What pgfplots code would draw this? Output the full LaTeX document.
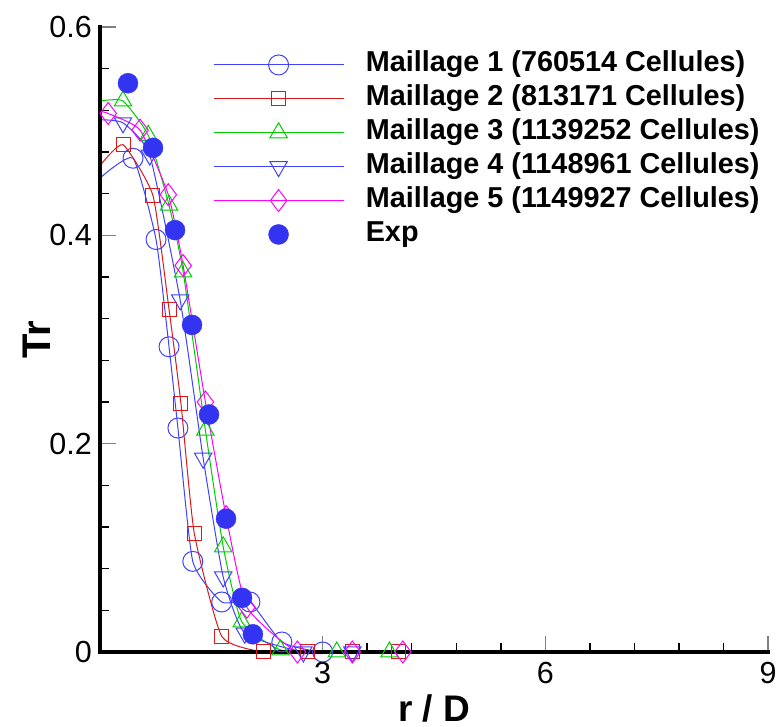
\documentclass[border=0pt]{standalone}
\usepackage{fontspec}
\setmainfont{Liberation Sans}
\usepackage{pgfplots}
\pgfplotsset{compat=1.18}
\definecolor{cblue}{rgb}{0.25,0.25,1}
\definecolor{cexp}{rgb}{0.2,0.2,0.95}
\definecolor{cred}{rgb}{0.85,0.1,0.1}
\definecolor{cgreen}{rgb}{0.0,0.8,0.0}
\definecolor{cmag}{rgb}{1,0,1}
\pgfplotsset{
  serleg/.style={legend image code/.code={
    \draw[##1, mark=none, line width=1pt] (0pt,0pt) -- (130pt,0pt);
    \draw[##1] plot coordinates {(65pt,0pt)};
    \path (152pt,0pt);
  }},
  expleg/.style={legend image code/.code={
    \draw[##1] plot coordinates {(65pt,0pt)};
    \path (0pt,0pt) (152pt,0pt);
  }},
}
\begin{document}
\begin{tikzpicture}
\begin{axis}[
  at={(0,0)}, anchor=south west,
  scale only axis, width=668pt, height=625pt,
  xmin=0, xmax=9, ymin=0, ymax=0.6,
  clip=false,
  axis x line*=bottom, axis y line*=left,
  x axis line style={-, line width=3.5pt, black},
  y axis line style={-, line width=3.5pt, black},
  xtick={3,6,9}, ytick={0,0.2,0.4,0.6},
  minor x tick num=4, minor y tick num=4,
  tick align=inside,
  major tick length=16pt, minor tick length=9pt,
  major tick style={gray, line width=1.2pt},
  minor tick style={black, line width=1.5pt},
  /pgf/number format/assume math mode=true,
  ticklabel style={font=\fontsize{30.5}{30.5}\selectfont},
  yticklabel style={inner sep=0pt, anchor=east, xshift=-8pt},
  xticklabel style={inner sep=0pt, anchor=north, yshift=-10pt},
  yticklabel={\pgfmathprintnumber[fixed,precision=1]{\tick}},
  xlabel={\textbf{r / D}},
  ylabel={\textbf{Tr}},
  xlabel style={font=\fontsize{37}{37}\selectfont, at={(axis description cs:0.5,-0.112)}, anchor=base},
  ylabel style={font=\fontsize{40}{40}\selectfont, at={(axis description cs:-0.094,0.5)}, anchor=center},
  legend cell align=left,
  legend style={at={(axis description cs:0.1645,0.9636)}, anchor=north west, draw=none, fill=none,
    font=\fontsize{28.8}{32}\selectfont\bfseries,
    row sep=7.9pt,
    nodes={inner sep=0pt, text height=20pt, text depth=6pt}},
]
% lines
\addplot[cblue, line width=1pt, smooth, tension=0.3, forget plot] coordinates {
(0,0.455) (0.445,0.474) (0.755,0.396) (0.93,0.293) (1.05,0.215) (1.25,0.087) (1.64,0.048) (2.02,0.048) (2.45,0.0096) (3.0,0) (4.2,0)};
\addplot[cred, line width=1pt, smooth, tension=0.3, forget plot] coordinates {
(0,0.467) (0.31,0.487) (0.714,0.438) (0.93,0.329) (1.09,0.239) (1.27,0.114) (1.64,0.015) (2.2,0) (2.8,0) (3.4,0) (4.02,0)};
\addplot[cgreen, line width=1pt, smooth, tension=0.3, forget plot] coordinates {
(0,0.529) (0.31,0.529) (0.65,0.496) (0.93,0.429) (1.12,0.365) (1.42,0.213) (1.66,0.101) (1.91,0.029) (2.43,0.002) (3.19,0) (3.9,0)};
\addplot[cblue, line width=1pt, smooth, tension=0.3, forget plot] coordinates {
(0,0.511) (0.31,0.508) (0.67,0.477) (1.08,0.338) (1.39,0.186) (1.66,0.072) (1.95,0.018) (2.74,0) (3.4,0)};
\addplot[cmag, line width=1pt, smooth, tension=0.3, forget plot] coordinates {
(0,0.519) (0.11,0.517) (0.54,0.501) (0.92,0.439) (1.12,0.371) (1.42,0.24) (1.7,0.13) (1.98,0.043) (2.66,0) (3.4,0) (4.08,0)};
% markers
\addplot[cblue, only marks, mark=o, mark size=10pt, mark options={line width=1pt}, serleg] coordinates {
(0.445,0.474) (0.755,0.396) (0.93,0.293) (1.05,0.215) (1.25,0.087) (1.64,0.048) (2.02,0.048) (2.45,0.0096) (3.0,0)};
\addlegendentry{Maillage 1 (760514 Cellules)}
\addplot[cred, only marks, mark=square, mark size=7pt, mark options={line width=1pt}, serleg] coordinates {
(0.31,0.487) (0.714,0.438) (0.93,0.329) (1.09,0.239) (1.27,0.114) (1.64,0.015) (2.2,0) (2.8,0) (3.4,0) (4.02,0)};
\addlegendentry{Maillage 2 (813171 Cellules)}
\addplot[cgreen, only marks, mark=triangle, mark size=10pt, mark options={line width=1pt}, serleg] coordinates {
(0.31,0.529) (0.65,0.496) (0.93,0.429) (1.12,0.365) (1.42,0.213) (1.66,0.101) (1.91,0.029) (2.43,0.002) (3.19,0) (3.9,0)};
\addlegendentry{Maillage 3 (1139252 Cellules)}
\addplot[cblue, only marks, mark=triangle, mark size=10pt, mark options={line width=1pt, rotate=180}, serleg] coordinates {
(0.31,0.508) (0.67,0.477) (1.08,0.338) (1.39,0.186) (1.66,0.072) (1.95,0.018) (2.74,0) (3.4,0)};
\addlegendentry{Maillage 4 (1148961 Cellules)}
\addplot[cmag, only marks, mark=diamond, mark size=11pt, mark options={line width=1pt}, serleg] coordinates {
(0.11,0.517) (0.54,0.501) (0.92,0.439) (1.12,0.371) (1.42,0.24) (1.7,0.13) (1.98,0.043) (2.66,0) (3.4,0) (4.08,0)};
\addlegendentry{Maillage 5 (1149927 Cellules)}
\addplot[cexp, only marks, mark=*, mark size=10pt, mark options={draw=cexp, fill=cexp}, expleg] coordinates {
(0.377,0.546) (0.714,0.484) (1.011,0.405) (1.24,0.314) (1.469,0.228) (1.698,0.128) (1.914,0.052) (2.06,0.017)};
\addlegendentry{Exp}
\draw[black, line width=3.5pt, line cap=rect] (rel axis cs:0,1) -- (rel axis cs:0,0) -- (rel axis cs:1,0);
\end{axis}
\pgfresetboundingbox
\path (-100pt,-75pt) rectangle (680pt,652pt);
\end{tikzpicture}
\end{document}
